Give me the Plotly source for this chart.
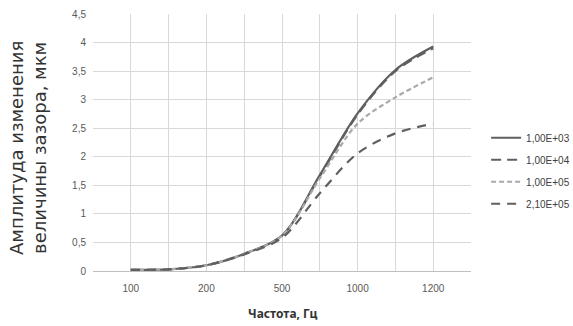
import plotly.graph_objects as go

# x positions of the data points (category index); labels shown on every other one
x_pos = [0, 1, 2, 3, 4, 5, 6, 7, 8]
tick_vals = [0, 2, 4, 6, 8]
tick_labels = ["100", "200", "500", "1000", "1200"]

s_1e3 = [0.02, 0.03, 0.10, 0.30, 0.62, 1.68, 2.76, 3.52, 3.93]
s_1e4 = [0.02, 0.03, 0.10, 0.30, 0.62, 1.66, 2.74, 3.50, 3.90]
s_1e5 = [0.02, 0.03, 0.10, 0.30, 0.62, 1.62, 2.58, 3.04, 3.39]
s_21e5 = [0.02, 0.03, 0.10, 0.29, 0.58, 1.36, 2.06, 2.41, 2.58]

names = ["1,00E+03", "1,00E+04", "1,00E+05", "2,10E+05"]
series = [s_1e3, s_1e4, s_1e5, s_21e5]
colors = ["#5f5f5f", "#5f5f5f", "#a9a9a9", "#5f5f5f"]
dashes = ["solid", "10px,6px", "5px,3px", "9px,7px"]

fig = go.Figure()
for i, (nm, ys, c, d) in enumerate(zip(names, series, colors, dashes)):
    fig.add_trace(go.Scatter(
        x=x_pos, y=ys, name=nm, mode="lines", legendgroup=str(i),
        line=dict(color=c, width=2.2, dash=d, shape="spline", smoothing=0.9),
    ))

fig.update_layout(
    width=573, height=326,
    margin=dict(l=93, r=102, t=14, b=55, autoexpand=False),
    paper_bgcolor="white", plot_bgcolor="white",
    separators=", ",
    font=dict(family="Liberation Sans, Arial, sans-serif", size=10, color="#595959"),
    showlegend=True,
    legend=dict(x=1.04, xanchor="left", y=0.39, yanchor="middle",
                font=dict(size=10, color="#404040"), tracegroupgap=3,
                itemwidth=30, bgcolor="rgba(0,0,0,0)"),
    xaxis=dict(
        range=[-1, 9], tickvals=tick_vals, ticktext=tick_labels,
        showgrid=True, gridcolor="#d9d9d9", gridwidth=1,
        minor=dict(tickvals=[-1, 1, 3, 5, 7, 9], showgrid=True, gridcolor="#d9d9d9", gridwidth=1),
        zeroline=False, showline=False, ticks="", ticklabelstandoff=10,
        tickfont=dict(size=10, color="#595959"),
    ),
    yaxis=dict(
        range=[0, 4.5], dtick=0.5, tick0=0,
        showgrid=True, gridcolor="#d9d9d9", gridwidth=1,
        zeroline=True, zerolinecolor="#bfbfbf", zerolinewidth=1,
        showline=False, ticks="", ticklabelstandoff=6,
        tickfont=dict(size=10, color="#595959"),
        tickformat=".1~f",
    ),
    annotations=[
        dict(text="Амплитуда изменения<br>величины зазора, мкм", textangle=-90,
             xref="paper", yref="paper", x=(28 - 93) / 378, y=(271 - 148) / 257,
             xanchor="center", yanchor="middle", showarrow=False,
             font=dict(family="DejaVu Sans, sans-serif", size=18, color="#333333")),
        dict(text="<b>Частота, Гц</b>", xref="paper", yref="paper",
             x=0.5, y=(271 - 313) / 257, xanchor="center", yanchor="middle",
             showarrow=False,
             font=dict(family="Noto Sans, sans-serif", size=12, color="#333333")),
    ],
)

fig.write_html("out.html", config={"displayModeBar": False},
               post_script="document.body.style.margin='0';")
